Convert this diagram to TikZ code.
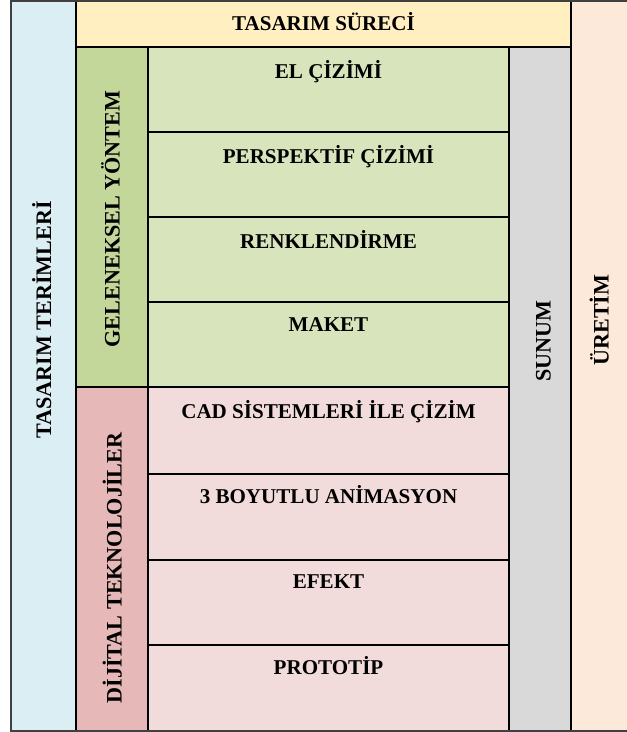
\documentclass[tikz,border=0pt]{standalone}
\usepackage{fontspec}
\setmainfont{Liberation Serif}
\usetikzlibrary{positioning}

\definecolor{terimblue}{HTML}{DAEEF3}
\definecolor{surecyellow}{HTML}{FFEFC1}
\definecolor{gelgreen}{HTML}{C4D79B}
\definecolor{gelitem}{HTML}{D8E4BC}
\definecolor{dijred}{HTML}{E6B8B7}
\definecolor{dijitem}{HTML}{F2DCDB}
\definecolor{sunumgray}{HTML}{D9D9D9}
\definecolor{uretimpeach}{HTML}{FDE9D9}

\begin{document}
\begin{tikzpicture}[
x=0.75pt, y=-0.75pt,
grid/.style={draw=black, line width=0.8pt},
frame/.style={draw=black!75, line width=1pt},
head/.style={font=\bfseries\fontsize{15.8}{18}\selectfont, inner sep=0pt},
vhead/.style={head, font=\bfseries\fontsize{16.6}{19}\selectfont, rotate=90, anchor=base},
item/.style={head, anchor=base}]
\useasboundingbox (0,0) rectangle (627,732);
% fills
\fill [terimblue] (11,1) rectangle (76,731);
\fill [surecyellow] (76,1) rectangle (571,47);
\fill [gelgreen] (76,47) rectangle (148,387);
\fill [gelitem] (148,47) rectangle (509,387);
\fill [dijred] (76,387) rectangle (148,731);
\fill [dijitem] (148,387) rectangle (509,731);
\fill [sunumgray] (509,47) rectangle (571,731);
\fill [uretimpeach] (571,1) rectangle (627,731);
% lines
\draw [grid] (76,1) -- (76,731);
\draw [grid] (148,47) -- (148,731);
\draw [grid] (509,47) -- (509,731);
\draw [grid] (571,1) -- (571,731);
\draw [grid] (76,47) -- (571,47);
\draw [grid] (76,387) -- (509,387);
\draw [grid] (148,132) -- (509,132);
\draw [grid] (148,217) -- (509,217);
\draw [grid] (148,302) -- (509,302);
\draw [grid] (148,474) -- (509,474);
\draw [grid] (148,560) -- (509,560);
\draw [grid] (148,645) -- (509,645);
\draw [frame] (627,1) -- (11,1) -- (11,731) -- (627,731);
% headings
\node [item] (surec) at (323.5,30) {TASARIM SÜRECİ};
\node [vhead] (terim) at (51,320) {TASARIM TERİMLERİ};
\node [vhead] (gelenek) at (119.5,219) {GELENEKSEL YÖNTEM};
\node [vhead] (dijital) at (121.5,568) {DİJİTAL TEKNOLOJİLER};
\node [vhead] (sunum) at (550.5,341) {SUNUM};
\node [vhead] (uretim) at (608.5,320) {ÜRETİM};
% items
\node [item] (el) at (328.5,78) {EL ÇİZİMİ};
\node [item] (persp) at (328.5,163) {PERSPEKTİF ÇİZİMİ};
\node [item] (renk) at (328.5,248) {RENKLENDİRME};
\node [item] (maket) at (328.5,331) {MAKET};
\node [item] (cad) at (328.5,418) {CAD SİSTEMLERİ İLE ÇİZİM};
\node [item] (boyut) at (328.5,503) {3 BOYUTLU ANİMASYON};
\node [item] (efekt) at (328.5,588) {EFEKT};
\node [item] (proto) at (328.5,674) {PROTOTİP};
\end{tikzpicture}
\end{document}
